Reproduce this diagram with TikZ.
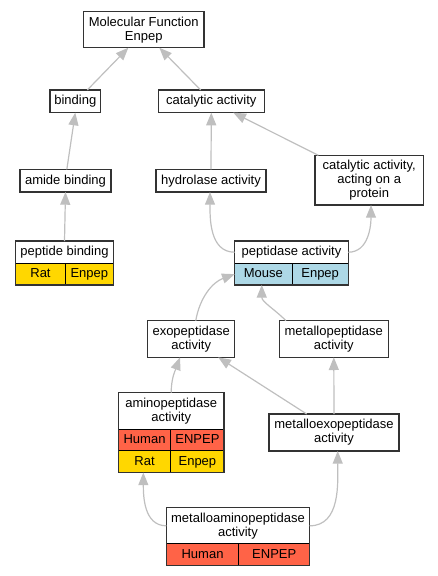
\documentclass[tikz,border=0pt]{standalone}
\usepackage{fontspec}
\setmainfont{Liberation Sans}
\usetikzlibrary{positioning}
\usetikzlibrary{arrows.meta}
\definecolor{ratgold}{HTML}{FFD700}
\definecolor{humanred}{HTML}{FF6347}
\definecolor{mouseblue}{HTML}{ADD8E6}

\begin{document}
\begin{tikzpicture}[x=0.75pt, y=0.75pt,
    term/.style={draw=black!80, line width=1pt, fill=white, align=center, inner sep=0pt, outer sep=0pt, font=\fontsize{9.75}{10.5}\selectfont},
    cell/.style={draw=black, line width=0.75pt, inner sep=0pt, outer sep=0pt, minimum height=16.2pt, text height=7.1pt, text depth=2.1pt, font=\fontsize{9.75}{10.5}\selectfont},
    frame/.style={draw=black!80, line width=1pt},
    isa/.style={draw=black!25, line width=0.9pt, -{Triangle[length=9.5pt, width=7.5pt]}}]
    \useasboundingbox (0,0) rectangle (437,-576);

    % plain terms
    \node[term, minimum width=90.5pt, minimum height=27pt] (mf) at (143.7,-29.7) {Molecular Function\\Enpep};
    \node[term, minimum width=38pt, minimum height=17pt] (binding) at (75.3,-101.3) {binding};
    \node[term, minimum width=79.5pt, minimum height=17pt] (catalytic) at (211.3,-101.3) {catalytic activity};
    \node[term, minimum width=68.25pt, minimum height=17pt] (amide) at (65.5,-180.7) {amide binding};
    \node[term, minimum width=82.5pt, minimum height=17pt] (hydrolase) at (211,-180.7) {hydrolase activity};
    \node[term, minimum width=81.2pt, minimum height=37.3pt] (onprotein) at (369.2,-180.2) {catalytic activity,\\acting on a\\protein};
    \node[term, minimum width=65.25pt, minimum height=27.5pt] (exo) at (191.2,-339) {exopeptidase\\activity};
    \node[term, minimum width=81.75pt, minimum height=27.5pt] (metallo) at (333.8,-339) {metallopeptidase\\activity};
    \node[term, minimum width=97.5pt, minimum height=27.75pt] (metalloexo) at (334,-432.5) {metalloexopeptidase\\activity};

    % terms with species rows
    \node[term, minimum width=73.2pt, minimum height=16.7pt] (pepbind) at (64.5,-252.2) {peptide binding};
    \node[cell, fill=ratgold, minimum width=37.2pt, below right=0pt and 0pt of pepbind.south west] (pepbindA) {Rat};
    \node[cell, fill=ratgold, minimum width=36pt, right=0pt of pepbindA] (pepbindB) {Enpep};
    \draw[frame] (pepbind.north west) rectangle (pepbindB.south east);

    \node[term, minimum width=85.2pt, minimum height=16.7pt] (peptidase) at (291.5,-252.2) {peptidase activity};
    \node[cell, fill=mouseblue, minimum width=43pt, below right=0pt and 0pt of peptidase.south west] (peptidaseA) {Mouse};
    \node[cell, fill=mouseblue, minimum width=42.2pt, right=0pt of peptidaseA] (peptidaseB) {Enpep};
    \draw[frame] (peptidase.north west) rectangle (peptidaseB.south east);

    \node[term, minimum width=79.3pt, minimum height=27.5pt] (aminopep) at (171.2,-411) {aminopeptidase\\activity};
    \node[cell, fill=humanred, minimum width=39.3pt, below right=0pt and 0pt of aminopep.south west] (aminopepA) {Human};
    \node[cell, fill=humanred, minimum width=40pt, right=0pt of aminopepA] (aminopepB) {ENPEP};
    \node[cell, fill=ratgold, minimum width=39.3pt, below=0pt of aminopepA] (aminopepC) {Rat};
    \node[cell, fill=ratgold, minimum width=40pt, right=0pt of aminopepC] (aminopepD) {Enpep};
    \draw[frame] (aminopep.north west) rectangle (aminopepD.south east);

    \node[term, minimum width=107.5pt, minimum height=27.2pt] (metalloamino) at (238,-525.8) {metalloaminopeptidase\\activity};
    \node[cell, fill=humanred, minimum width=54.3pt, below right=0pt and 0pt of metalloamino.south west] (metalloaminoA) {Human};
    \node[cell, fill=humanred, minimum width=53.25pt, right=0pt of metalloaminoA] (metalloaminoB) {ENPEP};
    \draw[frame] (metalloamino.north west) rectangle (metalloaminoB.south east);

    % is-a links, child to parent
    \draw[isa] ([xshift=9pt]binding.north) -- ([xshift=-11.5pt]mf.south);
    \draw[isa] ([xshift=-8pt]catalytic.north) -- ([xshift=11.7pt]mf.south);
    \draw[isa] ([xshift=1pt]amide.north) -- (binding.south);
    \draw[isa] (hydrolase.north) -- (catalytic.south);
    \draw[isa] ([xshift=2.5pt]onprotein.north west) -- ([xshift=16.5pt]catalytic.south);
    \draw[isa] (pepbind.north) -- (amide.south);
    \draw[isa] (peptidase.west) to[out=180, in=270] ([xshift=-0.75pt]hydrolase.south);
    \draw[isa] (peptidase.east) to[out=0, in=270] ([xshift=1.35pt]onprotein.south);
    \draw[isa] ([xshift=3.4pt]exo.north) to[out=80, in=200] (peptidaseA.west);
    \draw[isa] ([xshift=-35.9pt]metallo.north) to[out=135, in=270] ([xshift=-1.2pt]peptidaseA.south);
    \draw[isa] (aminopep.north) to[out=90, in=-110] ([xshift=-8.4pt]exo.south);
    \draw[isa] ([xshift=-20.5pt]metalloexo.north) -- ([xshift=20.3pt]exo.south);
    \draw[isa] (metalloexo.north) -- (metallo.south);
    \draw[isa] (metalloamino.west) to[out=180, in=270] ([xshift=-0.9pt]aminopepC.south);
    \draw[isa] (metalloamino.east) to[out=0, in=270] ([xshift=2.8pt]metalloexo.south);
\end{tikzpicture}
\end{document}
